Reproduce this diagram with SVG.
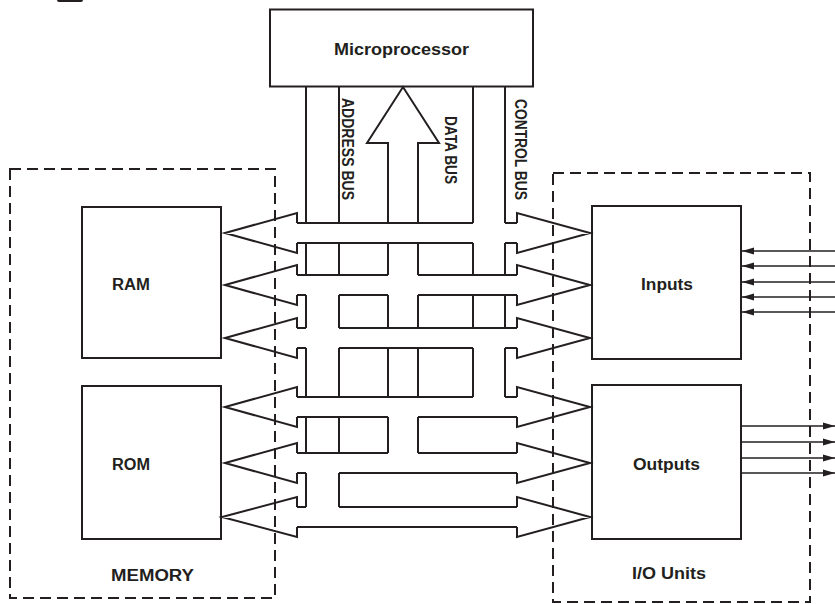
<svg xmlns="http://www.w3.org/2000/svg" width="835" height="604" viewBox="0 0 835 604">
<style>
.box{fill:#fff;stroke:#231f20;stroke-width:2}
.dash{fill:none;stroke:#231f20;stroke-width:2;stroke-dasharray:11 6}
.ln{fill:none;stroke:#231f20;stroke-width:2;stroke-linejoin:miter}
.io{fill:none;stroke:#231f20;stroke-width:1.3}
.t{font-family:"Liberation Sans",Arial,sans-serif;font-weight:bold;font-size:16px;fill:#231f20}
.v{font-family:"Liberation Sans",Arial,sans-serif;font-weight:bold;font-size:16px;fill:#231f20}
</style>
<defs>
<marker id="ah" markerWidth="13" markerHeight="8" refX="12" refY="4" orient="auto" markerUnits="userSpaceOnUse">
<path d="M0,0.5 L12,4 L0,7.5 Z" fill="#231f20"/>
</marker>
</defs>
<rect x="57" y="-3" width="26" height="5" rx="2" fill="#231f20"/>
<g id="memory"><rect class="dash" x="10" y="169" width="265" height="429"/><text class="t" x="111" y="581" textLength="83" lengthAdjust="spacingAndGlyphs">MEMORY</text></g>
<g id="io-units"><rect class="dash" x="553" y="173" width="257" height="429"/><text class="t" x="632" y="579" textLength="74" lengthAdjust="spacingAndGlyphs">I/O Units</text></g>
<g id="microprocessor"><rect class="box" x="270" y="9.5" width="263" height="77"/><text class="t" x="334" y="55" textLength="135" lengthAdjust="spacingAndGlyphs">Microprocessor</text></g>
<g id="ram"><rect class="box" x="82" y="207" width="139" height="151"/><text class="t" x="112" y="290" textLength="38" lengthAdjust="spacingAndGlyphs">RAM</text></g>
<g id="rom"><rect class="box" x="82" y="386" width="139" height="153"/><text class="t" x="112" y="470" textLength="38" lengthAdjust="spacingAndGlyphs">ROM</text></g>
<g id="inputs"><rect class="box" x="592" y="206" width="149" height="153"/><text class="t" x="641" y="290" textLength="52" lengthAdjust="spacingAndGlyphs">Inputs</text></g>
<g id="outputs"><rect class="box" x="592" y="385" width="149" height="154"/><text class="t" x="633" y="470" textLength="67" lengthAdjust="spacingAndGlyphs">Outputs</text></g>
<g id="connectors">
<path class="ln" d="M388,223 V143 H367 L403,87 L439,143 H418 V223"/>
<path class="ln" d="M306,87 V223 M339,87 V223 M473,87 V223 M505,87 V223
M306,243 V275 M339,243 V275 M388,243 V275 M418,243 V275 M473,243 V275 M505,243 V275
M306,295 V328 M339,295 V328 M388,295 V328 M418,295 V328 M473,295 V328 M505,295 V328
M306,348 V397 M339,348 V397 M388,348 V397 M418,348 V397 M473,348 V397 M505,348 V397
M306,417 V453 M339,417 V453 M388,417 V453 M418,417 V453
M306,473 V507 M339,473 V507"/>
<path class="ln" d="M297,223 H473 M505,223 H517
M297,243 H473 M505,243 H517
M297,275 H388 M418,275 H517
M297,295 H306 M339,295 H388 M418,295 H517
M297,328 H306 M339,328 H517
M297,348 H306 M339,348 H473 M505,348 H517
M297,397 H473 M505,397 H517
M297,417 H388 M418,417 H517
M297,453 H388 M418,453 H517
M297,473 H306 M339,473 H517
M297,507 H306 M339,507 H517
M297,527 H517"/>
<path class="ln" d="M297,223 V213 L225,233 L297,253 V243
M297,275 V265 L225,285 L297,305 V295
M297,328 V318 L225,338 L297,358 V348
M297,397 V387 L225,407 L297,427 V417
M297,453 V443 L225,463 L297,483 V473
M297,507 V497 L222,517 L297,537 V527"/>
<path class="ln" d="M517,223 V213 L590,233 L517,253 V243
M517,275 V265 L590,285 L517,305 V295
M517,328 V318 L590,338 L517,358 V348
M517,397 V387 L590,407 L517,427 V417
M517,453 V443 L590,463 L517,483 V473
M517,507 V497 L590,517 L517,537 V527"/>
<path class="io" marker-end="url(#ah)" d="M835,251 H742"/>
<path class="io" marker-end="url(#ah)" d="M835,266 H742"/>
<path class="io" marker-end="url(#ah)" d="M835,282 H742"/>
<path class="io" marker-end="url(#ah)" d="M835,297 H742"/>
<path class="io" marker-end="url(#ah)" d="M835,312 H742"/>
<path class="io" marker-end="url(#ah)" d="M741,426 H835"/>
<path class="io" marker-end="url(#ah)" d="M741,442 H835"/>
<path class="io" marker-end="url(#ah)" d="M741,458 H835"/>
<path class="io" marker-end="url(#ah)" d="M741,473 H835"/>
</g>
<text class="v" x="342" y="98" transform="rotate(90 342 98)" textLength="102" lengthAdjust="spacingAndGlyphs">ADDRESS BUS</text>
<text class="v" x="445" y="116" transform="rotate(90 445 116)" textLength="68" lengthAdjust="spacingAndGlyphs">DATA BUS</text>
<text class="v" x="515" y="99" transform="rotate(90 515 99)" textLength="101" lengthAdjust="spacingAndGlyphs">CONTROL BUS</text>
</svg>
